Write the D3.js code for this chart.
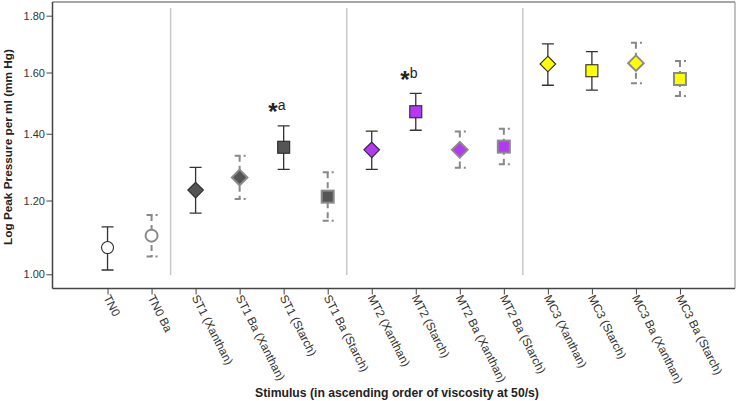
<!DOCTYPE html>
<html><head><meta charset="utf-8">
<script src="https://cdn.jsdelivr.net/npm/d3@7"></script>
<style>body{margin:0;background:#fff}svg{display:block}text{font-family:Arial,"Liberation Sans",sans-serif}</style>
</head><body><svg id="c" width="738" height="401"></svg>
<script>
const categories = ["TN0","TN0 Ba","ST1 (Xanthan)","ST1 Ba (Xanthan)","ST1 (Starch)","ST1 Ba (Starch)","MT2 (Xanthan)","MT2 (Starch)","MT2 Ba (Xanthan)","MT2 Ba (Starch)","MC3 (Xanthan)","MC3 (Starch)","MC3 Ba (Xanthan)","MC3 Ba (Starch)"];
const means = [1.070,1.102,1.230,1.267,1.358,1.211,1.350,1.470,1.350,1.360,1.629,1.606,1.632,1.578];
const upper = [1.126,1.159,1.297,1.332,1.425,1.282,1.408,1.530,1.407,1.416,1.699,1.672,1.703,1.639];
const lower = [1.011,1.046,1.164,1.204,1.291,1.143,1.291,1.411,1.296,1.306,1.557,1.541,1.564,1.521];
const groups = ["TN0","TN0","ST1","ST1","ST1","ST1","MT2","MT2","MT2","MT2","MC3","MC3","MC3","MC3"];
const barium = [false,true,false,true,false,true,false,false,true,true,false,false,true,true];
const shapes = ["circle","circle","diamond","diamond","square","square","diamond","square","diamond","square","diamond","square","diamond","square"];
const yTicks = [1.00,1.20,1.40,1.60,1.80];
const separatorsAfter = ["TN0 Ba","ST1 Ba (Starch)","MT2 Ba (Starch)"];
const annotations = [{cat:"ST1 (Starch)",label:"a"},{cat:"MT2 (Starch)",label:"b"}];
const groupFill = {TN0:"#ffffff",ST1:"#555555",MT2:"#b33af2",MC3:"#ffff00"};

const svg = d3.select("#c");
const L=52.5, R=735, T=2, B=288.5;
const x = d3.scalePoint().domain(categories).range([L,R]).padding(1.25);
const y = d3.scalePow().exponent(0.4).domain([1.0,1.8]).range([274.3,15.7]);
const step = x.step();

// frame top/right
svg.append("line").attr("x1",L).attr("x2",R).attr("y1",T).attr("y2",T).attr("stroke","#888").attr("stroke-width",1.5);
svg.append("line").attr("x1",R).attr("x2",R).attr("y1",T).attr("y2",B).attr("stroke","#999").attr("stroke-width",1.2);

// separators
separatorsAfter.forEach(c=>{
  const sx = x(c)+step/2-3;
  svg.append("line").attr("x1",sx).attr("x2",sx).attr("y1",8).attr("y2",275).attr("stroke","#c8c8c8").attr("stroke-width",1.5);
});

// y axis
const yAxis = d3.axisLeft(y).tickValues(yTicks).tickFormat(d3.format(".2f")).tickSize(6).tickSizeOuter(0);
const gy = svg.append("g").attr("transform",`translate(${L},0)`).call(yAxis);
gy.select(".domain").remove();
svg.append("line").attr("x1",L).attr("x2",L).attr("y1",T).attr("y2",B).attr("stroke","#444").attr("stroke-width",1.5);
gy.selectAll(".tick line").attr("stroke","#444");
gy.selectAll(".tick text").attr("font-size",11).attr("fill","#333").attr("x",-7.5);

// x axis
const xAxis = d3.axisBottom(x).tickSize(6).tickSizeOuter(0);
const gx = svg.append("g").attr("transform",`translate(0,${B})`).call(xAxis);
gx.select(".domain").remove();
svg.append("line").attr("x1",L).attr("x2",R).attr("y1",B).attr("y2",B).attr("stroke","#444").attr("stroke-width",1.5);
gx.selectAll(".tick line").attr("stroke","#444");
gx.selectAll(".tick text").attr("font-size",11.8).attr("fill","#333")
  .attr("text-anchor","start").attr("x",0).attr("y",0).attr("dy","0.35em")
  .attr("transform","translate(-1,7) rotate(63)");

// axis titles
svg.append("text").attr("transform","translate(12,147) rotate(-90)").attr("text-anchor","middle")
  .attr("font-size",11.8).attr("font-weight","bold").attr("fill","#222").text("Log Peak Pressure per ml (mm Hg)");
svg.append("text").attr("x",397).attr("y",397).attr("text-anchor","middle")
  .attr("font-size",12.2).attr("font-weight","bold").attr("fill","#222").text("Stimulus (in ascending order of viscosity at 50/s)");

// error bars and markers
const pts = categories.map((c,i)=>({c,m:means[i],hi:upper[i],lo:lower[i],g:groups[i],ba:barium[i],s:shapes[i]}));
const cap=6;
pts.forEach(p=>{
  const cx=x(p.c), yt=y(p.hi), yb=y(p.lo), ym=y(p.m);
  const g=svg.append("g");
  if(!p.ba){
    g.append("path").attr("d",`M${cx-cap},${yt}H${cx+cap}M${cx},${yt}V${yb}M${cx-cap},${yb}H${cx+cap}`)
      .attr("stroke","#333").attr("stroke-width",1.3).attr("fill","none");
  } else {
    const col="#888", w=2;
    g.append("path").attr("d",`M${cx},${yt}V${yb}`).attr("stroke",col).attr("stroke-width",w).attr("stroke-dasharray","6,4").attr("fill","none");
    g.append("path").attr("d",`M${cx-5},${yt}H${cx+1}M${cx+4},${yt}H${cx+6}M${cx-5},${yb}H${cx+1}M${cx+4},${yb}H${cx+6}`)
      .attr("stroke",col).attr("stroke-width",w).attr("fill","none");
  }
  const fill=groupFill[p.g], stroke=p.ba?"#8a8a8a":"#2a2a2a", sw=p.ba?2:1.1;
  if(p.s==="circle"){
    g.append("circle").attr("cx",cx).attr("cy",ym).attr("r",6).attr("fill",fill).attr("stroke",stroke).attr("stroke-width",sw);
  } else if(p.s==="diamond"){
    const r=7.8;
    g.append("path").attr("d",`M${cx},${ym-r}L${cx+r},${ym}L${cx},${ym+r}L${cx-r},${ym}Z`).attr("fill",fill).attr("stroke",stroke).attr("stroke-width",sw);
  } else {
    const h=6;
    g.append("rect").attr("x",cx-h).attr("y",ym-h).attr("width",2*h).attr("height",2*h).attr("fill",fill).attr("stroke",stroke).attr("stroke-width",sw);
  }
});

// annotations
annotations.forEach(a=>{
  const i=categories.indexOf(a.cat);
  const cx=x(a.cat), by=y(upper[i])-15.5;
  svg.append("text").attr("x",cx-15.5).attr("y",by+10).attr("font-size",24).attr("font-weight","bold").attr("fill","#222").text("*");
  svg.append("text").attr("x",cx-6).attr("y",by).attr("font-size",14).attr("fill","#222").text(a.label);
});
</script></body></html>
